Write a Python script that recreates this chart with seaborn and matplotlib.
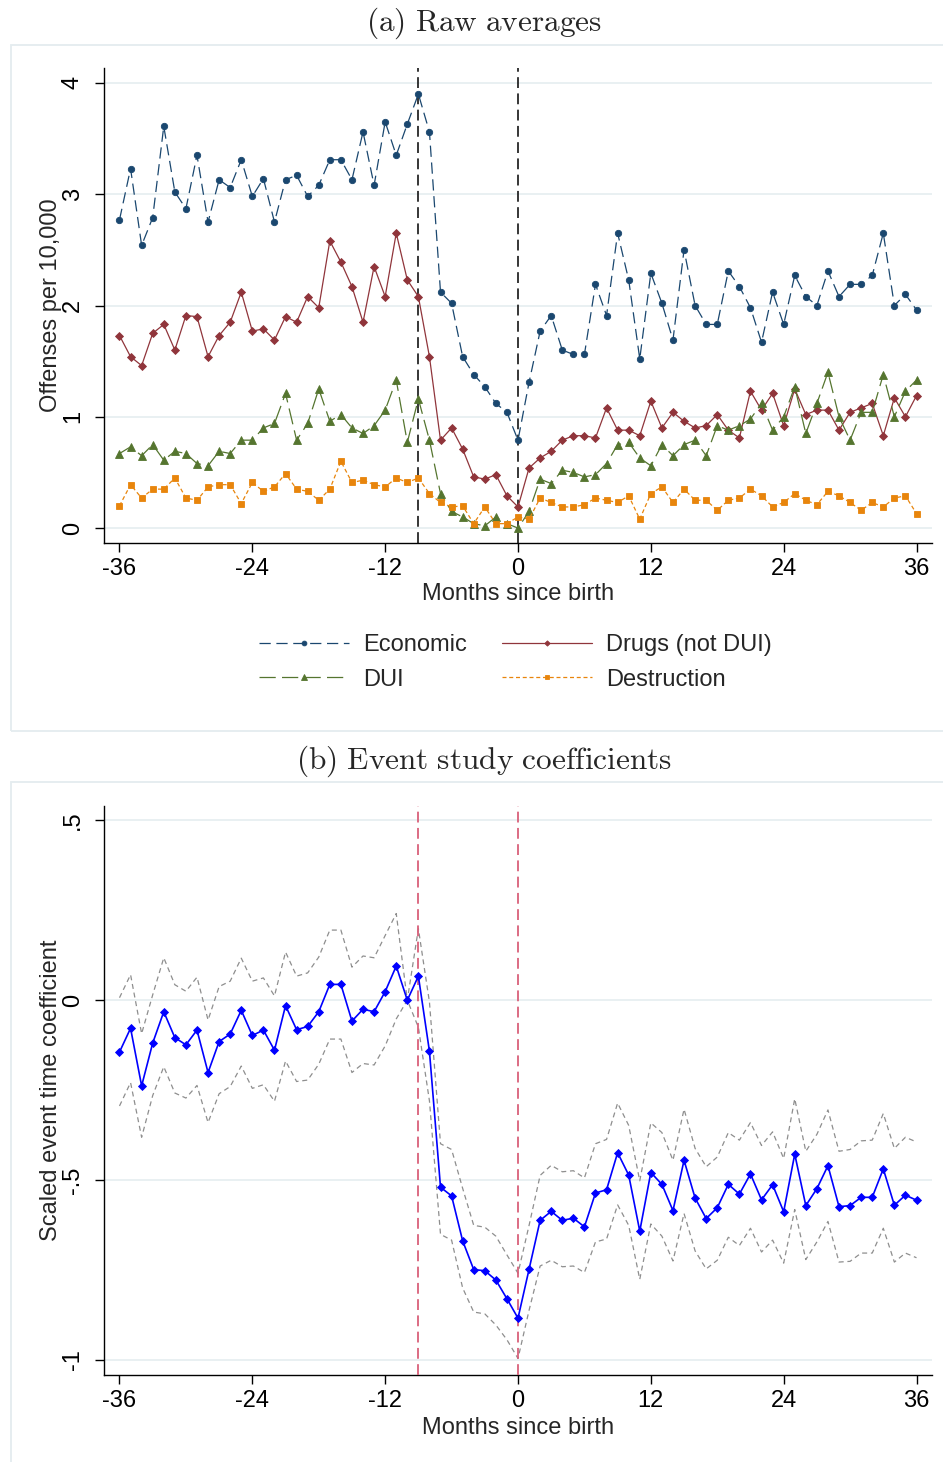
import numpy as np
import matplotlib
matplotlib.use("Agg")
import matplotlib.pyplot as plt
from matplotlib.patches import Rectangle
import seaborn as sns

sns.set_theme(style="white")
plt.rcParams["font.family"] = ["Liberation Sans", "DejaVu Sans"]
plt.rcParams["mathtext.fontset"] = "cm"
plt.rcParams["axes.unicode_minus"] = False

# ---------------------------------------------------------------- data
MONTHS = np.arange(-36, 37)

ECONOMIC = [
    2.77, 3.23, 2.54, 2.79, 3.61, 3.02, 2.87, 3.35, 2.75, 3.13, 3.06, 3.31, 2.98,
    3.14, 2.75, 3.13, 3.17, 2.98, 3.08, 3.31, 3.31, 3.13, 3.56, 3.08, 3.65,
    3.35, 3.63, 3.90, 3.56, 2.12, 2.02, 1.54, 1.38, 1.27, 1.12, 1.04, 0.79,
    1.31, 1.77, 1.91, 1.60, 1.56, 1.56, 2.19, 1.91, 2.65, 2.23, 1.52, 2.29, 2.02,
    1.69, 2.50, 2.00, 1.83, 1.83, 2.31, 2.17, 1.98, 1.67, 2.12, 1.83, 2.27,
    2.08, 2.00, 2.31, 2.08, 2.19, 2.19, 2.27, 2.65, 2.00, 2.10, 1.96,
]
DRUGS = [
    1.73, 1.54, 1.46, 1.75, 1.83, 1.60, 1.91, 1.90, 1.54, 1.73, 1.85, 2.12, 1.77,
    1.79, 1.69, 1.90, 1.85, 2.08, 1.98, 2.58, 2.39, 2.17, 1.85, 2.35, 2.08,
    2.65, 2.23, 2.08, 1.54, 0.79, 0.90, 0.71, 0.46, 0.44, 0.48, 0.29, 0.19,
    0.54, 0.63, 0.69, 0.79, 0.83, 0.83, 0.81, 1.08, 0.88, 0.88, 0.83, 1.14, 0.90,
    1.04, 0.96, 0.90, 0.92, 1.02, 0.88, 0.81, 1.23, 1.06, 1.21, 0.92, 1.25,
    1.02, 1.06, 1.06, 0.88, 1.04, 1.08, 1.12, 0.83, 1.17, 1.00, 1.19,
]
DUI = [
    0.67, 0.73, 0.65, 0.75, 0.61, 0.69, 0.67, 0.58, 0.56, 0.69, 0.67, 0.79, 0.79,
    0.90, 0.94, 1.21, 0.79, 0.94, 1.25, 0.96, 1.02, 0.90, 0.85, 0.92, 1.06,
    1.33, 0.77, 1.16, 0.79, 0.31, 0.15, 0.10, 0.04, 0.02, 0.10, 0.04, 0.00,
    0.15, 0.44, 0.40, 0.52, 0.50, 0.46, 0.48, 0.58, 0.75, 0.77, 0.63, 0.56, 0.75,
    0.65, 0.75, 0.79, 0.65, 0.92, 0.88, 0.92, 0.98, 1.12, 0.88, 1.00, 1.27,
    0.85, 1.12, 1.40, 1.00, 0.79, 1.04, 1.04, 1.38, 1.00, 1.23, 1.33,
]
DESTRUCTION = [
    0.20, 0.39, 0.27, 0.35, 0.35, 0.45, 0.27, 0.25, 0.37, 0.39, 0.39, 0.22, 0.41,
    0.33, 0.37, 0.49, 0.35, 0.33, 0.25, 0.35, 0.60, 0.41, 0.43, 0.39, 0.37,
    0.45, 0.41, 0.45, 0.31, 0.23, 0.19, 0.20, 0.04, 0.19, 0.04, 0.04, 0.10,
    0.08, 0.27, 0.23, 0.19, 0.19, 0.21, 0.27, 0.25, 0.23, 0.29, 0.08, 0.31, 0.37,
    0.23, 0.35, 0.25, 0.25, 0.16, 0.25, 0.27, 0.35, 0.29, 0.19, 0.23, 0.31,
    0.25, 0.21, 0.33, 0.29, 0.23, 0.16, 0.23, 0.19, 0.27, 0.29, 0.13,
]

COEF = [
    -0.144, -0.078, -0.238, -0.119, -0.032, -0.104, -0.124, -0.083, -0.201,
    -0.115, -0.094, -0.028, -0.098, -0.083, -0.139, -0.015, -0.082, -0.073,
    -0.032, 0.044, 0.044, -0.058, -0.025, -0.032, 0.024,
    0.095, 0.000, 0.067, -0.142, -0.520, -0.544, -0.669, -0.749, -0.752,
    -0.778, -0.830, -0.884, -0.748, -0.612, -0.587, -0.612, -0.606, -0.630,
    -0.536, -0.527, -0.424, -0.486, -0.642, -0.479, -0.512,
    -0.585, -0.445, -0.550, -0.607, -0.577, -0.512, -0.539, -0.483, -0.555,
    -0.513, -0.588, -0.428, -0.571, -0.524, -0.460, -0.574, -0.571, -0.548,
    -0.548, -0.469, -0.570, -0.542, -0.556,
]
CI_UPPER = [
    0.007, 0.071, -0.093, 0.015, 0.118, 0.043, 0.025, 0.064, -0.055, 0.038,
    0.053, 0.117, 0.053, 0.062, 0.012, 0.134, 0.067, 0.076, 0.120, 0.195,
    0.195, 0.092, 0.123, 0.118, 0.180,
    0.241, 0.000, 0.199, -0.005, -0.399, -0.415, -0.523, -0.626, -0.631,
    -0.656, -0.708, -0.759, -0.626, -0.487, -0.459, -0.477, -0.474, -0.494,
    -0.399, -0.387, -0.286, -0.348, -0.502, -0.341, -0.368,
    -0.445, -0.303, -0.412, -0.463, -0.436, -0.368, -0.389, -0.340, -0.404,
    -0.366, -0.440, -0.274, -0.420, -0.373, -0.305, -0.420, -0.415, -0.391,
    -0.389, -0.315, -0.412, -0.381, -0.394,
]
CI_LOWER = [
    -0.294, -0.229, -0.381, -0.265, -0.185, -0.258, -0.272, -0.237, -0.340,
    -0.260, -0.240, -0.183, -0.245, -0.235, -0.281, -0.169, -0.226, -0.222,
    -0.178, -0.108, -0.108, -0.201, -0.176, -0.180, -0.127,
    -0.052, 0.000, -0.075, -0.280, -0.651, -0.667, -0.800, -0.867, -0.872,
    -0.903, -0.944, -0.996, -0.862, -0.739, -0.723, -0.741, -0.739, -0.757,
    -0.672, -0.664, -0.569, -0.626, -0.776, -0.622, -0.656,
    -0.725, -0.593, -0.697, -0.747, -0.723, -0.659, -0.682, -0.634, -0.700,
    -0.667, -0.731, -0.582, -0.721, -0.672, -0.615, -0.728, -0.726, -0.703,
    -0.703, -0.634, -0.728, -0.703, -0.716,
]

EVENT_MONTHS = [-9, 0]
X_TICKS = [-36, -24, -12, 0, 12, 24, 36]
X_TICK_LABELS = ["-36", "-24", "-12", "0", "12", "24", "36"]
A_Y_TICKS = [0, 1, 2, 3, 4]
A_Y_TICK_LABELS = ["0", "1", "2", "3", "4"]
B_Y_TICKS = [-1, -0.5, 0, 0.5]
B_Y_TICK_LABELS = ["-1", "-.5", "0", ".5"]

# ---------------------------------------------------------------- styling
GRID = "#e9f0f2"
FRAME = "#e4ecef"
FS = 17

fig = plt.figure(figsize=(9.43, 14.62), dpi=100)
W, H = 943.0, 1462.0

# graph-region frames
fig.add_artist(Rectangle((11 / W, 1 - 731 / H), 1.0, (731 - 45) / H,
                         transform=fig.transFigure, fill=False,
                         edgecolor=FRAME, lw=1.3, zorder=0))
fig.add_artist(Rectangle((11 / W, -0.05), 1.0, (1 - 782 / H) + 0.05,
                         transform=fig.transFigure, fill=False,
                         edgecolor=FRAME, lw=1.3, zorder=0))

ax_a = fig.add_axes([104 / W, 1 - 543 / H, 828 / W, 475 / H])
ax_b = fig.add_axes([104 / W, 1 - 1375 / H, 828 / W, 569 / H])


def style_axes(ax, yticks, ylabels, ylim, ylabel, xlabel_y):
    ax.set_facecolor("none")
    ax.set_xlim(-37.4, 37.4)
    ax.set_ylim(*ylim)
    ax.set_xticks(X_TICKS)
    ax.set_xticklabels(X_TICK_LABELS)
    ax.set_yticks(yticks)
    ax.set_yticklabels(ylabels, rotation=90, va="center")
    for y in yticks:
        ax.axhline(y, color=GRID, lw=1.4, zorder=0)
    sns.despine(ax=ax)
    for side in ("left", "bottom"):
        ax.spines[side].set_color("black")
        ax.spines[side].set_linewidth(1.0)
    ax.tick_params(axis="both", which="major", bottom=True, left=True,
                   direction="out", length=6.5, width=1.0, color="black",
                   labelsize=FS, labelcolor="black")
    ax.tick_params(axis="x", pad=4.5)
    ax.tick_params(axis="y", pad=8)
    ax.set_xlabel("Months since birth", fontsize=FS)
    ax.xaxis.set_label_coords(0.5, xlabel_y)
    ax.set_ylabel(ylabel, fontsize=FS)
    ax.yaxis.set_label_coords(-0.051, 0.5)


# ---------------------------------------------------------------- panel (a)
series_a = [
    ("Economic", ECONOMIC, "#1a476f", "o", 4.6, (0, (9, 4.5))),
    ("Drugs (not DUI)", DRUGS, "#90353b", "D", 3.6, "-"),
    ("DUI", DUI, "#55752f", "^", 6.0, (0, (13, 5))),
    ("Destruction", DESTRUCTION, "#e8850c", "s", 4.4, (0, (3.2, 2.2))),
]
for name, vals, color, marker, ms, ls in series_a:
    sns.lineplot(x=MONTHS, y=vals, ax=ax_a, color=color, lw=0.9,
                 linestyle=ls, marker=marker, markersize=ms,
                 markeredgecolor=color, markeredgewidth=0.6,
                 label=name, legend=False, errorbar=None, zorder=3)

for m in EVENT_MONTHS:
    ax_a.axvline(m, color="#262626", lw=1.3, linestyle=(0, (6, 3)), zorder=2)

style_axes(ax_a, A_Y_TICKS, A_Y_TICK_LABELS, (-0.134, 4.134),
           "Offenses per 10,000", -0.085)

handles, labels = ax_a.get_legend_handles_labels()
order = [0, 2, 1, 3]
fig.legend([handles[i] for i in order], [labels[i] for i in order],
           loc="center", bbox_to_anchor=(515.5 / W, 1 - 662.5 / H), ncol=2,
           frameon=False, fontsize=FS, handlelength=3.8, handletextpad=0.6,
           columnspacing=1.5, labelspacing=0.52, markerscale=0.75)

fig.text(483.5 / W, 1 - 23 / H, r"$\mathrm{(a)\ Raw\ averages}$",
         ha="center", va="center", fontsize=22.5)

# ---------------------------------------------------------------- panel (b)
for bound in (CI_UPPER, CI_LOWER):
    sns.lineplot(x=MONTHS, y=bound, ax=ax_b, color="#8e8e8e", lw=0.9,
                 linestyle=(0, (4, 3)), legend=False, errorbar=None, zorder=2)

sns.lineplot(x=MONTHS, y=COEF, ax=ax_b, color="#0000ff", lw=1.2,
             marker="D", markersize=4.2, markeredgecolor="#0000ff",
             markeredgewidth=0.6, legend=False, errorbar=None, zorder=4)

for m in EVENT_MONTHS:
    ax_b.axvline(m, color="#d9607a", lw=1.3, linestyle=(0, (6, 3)), zorder=3)

style_axes(ax_b, B_Y_TICKS, B_Y_TICK_LABELS, (-1.042, 0.54),
           "Scaled event time coefficient", -0.073)

fig.text(483.5 / W, 1 - 761 / H, r"$\mathrm{(b)\ Event\ study\ coefficients}$",
         ha="center", va="center", fontsize=22.5)

fig.savefig("out.png", dpi=100)
